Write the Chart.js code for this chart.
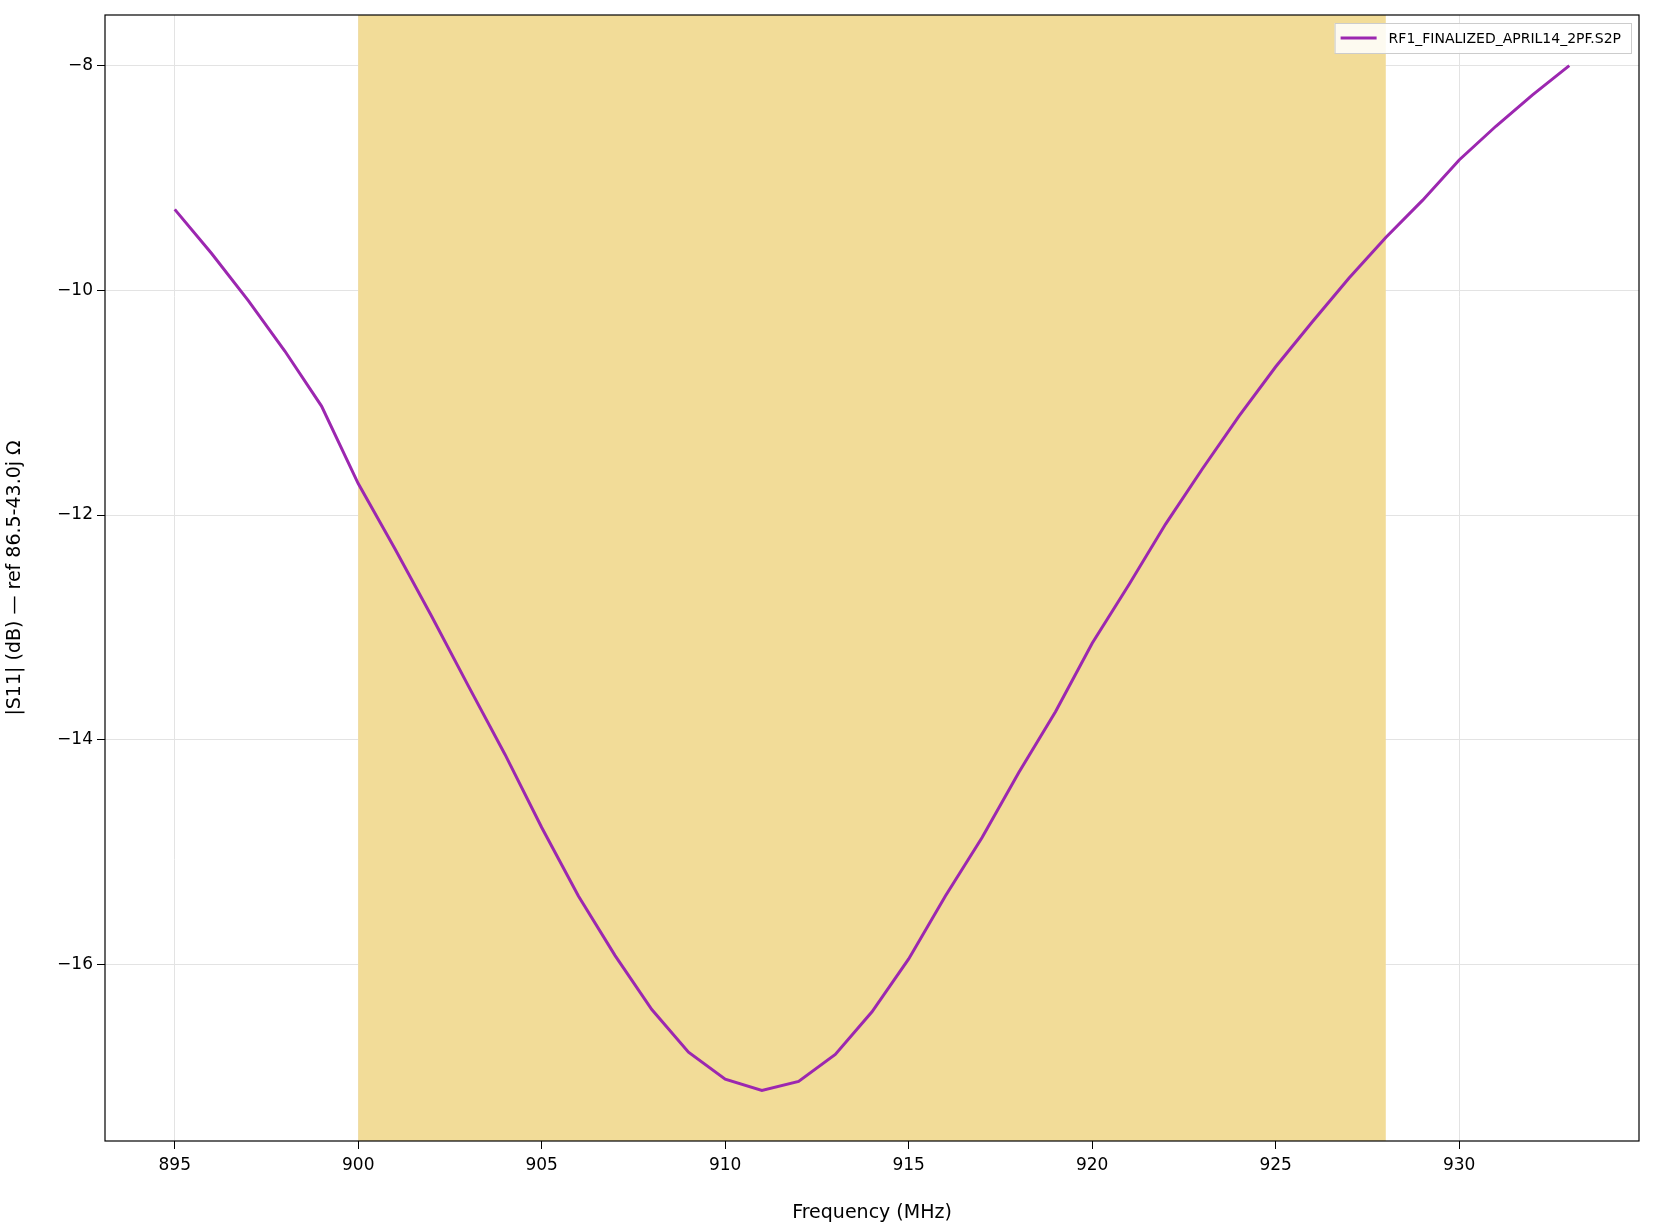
<!DOCTYPE html>
<html><head><meta charset="utf-8">
<script src="https://cdn.jsdelivr.net/npm/chart.js@4"></script>
<style>html,body{margin:0;background:#fff}#wrap{width:1654px;height:1224px}</style>
</head><body><div id="wrap"><canvas id="c"></canvas></div>
<script>
// S11 sweep, one point per MHz
const freqs = [895,896,897,898,899,900,901,902,903,904,905,906,907,908,909,910,911,912,913,914,
  915,916,917,918,919,920,921,922,923,924,925,926,927,928,929,930,931,932,933];
const s11 = [-9.28,-9.67,-10.09,-10.54,-11.03,-11.72,-12.30,-12.90,-13.52,-14.13,-14.78,-15.39,-15.92,-16.40,-16.78,-17.02,-17.12,-17.04,-16.80,-16.42,
  -15.95,-15.39,-14.87,-14.29,-13.75,-13.14,-12.62,-12.08,-11.59,-11.12,-10.68,-10.28,-9.89,-9.53,-9.20,-8.84,-8.54,-8.26,-8.00];
const band = [900, 928];
const xTicks = [895,900,905,910,915,920,925,930];
const yTicks = [-16,-14,-12,-10,-8];
const seriesName = 'RF1_FINALIZED_APRIL14_2PF.S2P';
const lineColor = '#9c27b0';

const bandPlugin = {
  id: 'band',
  beforeDatasetsDraw(chart) {
    const {ctx, chartArea: a, scales: {x}} = chart;
    ctx.save();
    ctx.fillStyle = '#f2dc98';
    const x0 = x.getPixelForValue(band[0]), x1 = x.getPixelForValue(band[1]);
    ctx.fillRect(x0, a.top, x1 - x0, a.bottom - a.top);
    ctx.restore();
  },
  afterDraw(chart) {
    const {ctx, chartArea: a} = chart;
    ctx.save();
    ctx.strokeStyle = '#000'; ctx.lineWidth = 1.2;
    ctx.strokeRect(a.left, a.top, a.right - a.left, a.bottom - a.top);
    // legend box, upper right inside the plot
    ctx.font = '14px "DejaVu Sans"';
    const tw = ctx.measureText(seriesName).width;
    const w = tw + 64, h = 30;
    const lx = a.right - 8 - w, ly = a.top + 8;
    ctx.fillStyle = 'rgba(255,255,255,0.85)';
    ctx.fillRect(lx, ly, w, h);
    ctx.strokeStyle = '#ccc'; ctx.lineWidth = 1;
    ctx.strokeRect(lx + 0.5, ly + 0.5, w, h);
    ctx.strokeStyle = lineColor; ctx.lineWidth = 3;
    ctx.beginPath(); ctx.moveTo(lx + 6, ly + h / 2); ctx.lineTo(lx + 42, ly + h / 2); ctx.stroke();
    ctx.fillStyle = '#000'; ctx.textBaseline = 'middle';
    ctx.fillText(seriesName, lx + 54, ly + h / 2 + 1);
    ctx.restore();
  }
};
const fmt = v => String(v).replace('-', '\u2212');

new Chart(document.getElementById('c'), {
  type: 'line',
  data: { datasets: [{
    label: seriesName,
    data: freqs.map((f, i) => ({x: f, y: s11[i]})),
    borderColor: lineColor, borderWidth: 3, pointRadius: 0, tension: 0
  }]},
  options: {
    responsive: true, maintainAspectRatio: false, animation: false,
    layout: { padding: { top: 15, right: 15, left: 0, bottom: 0 } },
    plugins: { legend: { display: false }, tooltip: { enabled: false } },
    scales: {
      x: {
        type: 'linear', min: 893.1, max: 934.9,
        afterBuildTicks: s => { s.ticks = xTicks.map(v => ({value: v})); },
        afterFit: s => { s.height = 83; },
        grid: { color: '#e3e3e3', tickLength: 8, tickColor: '#000' },
        border: { display: false },
        ticks: { color: '#000', font: { family: 'DejaVu Sans', size: 17 }, maxRotation: 0, padding: 6 },
        title: { display: true, text: 'Frequency (MHz)', color: '#000', font: { family: 'DejaVu Sans', size: 19 }, padding: { top: 4, bottom: 0 } }
      },
      y: {
        min: -17.57, max: -7.55,
        afterBuildTicks: s => { s.ticks = yTicks.map(v => ({value: v})); },
        afterFit: s => { s.width = 105; },
        grid: { color: '#e3e3e3', tickLength: 8, tickColor: '#000' },
        border: { display: false },
        ticks: { color: '#000', font: { family: 'DejaVu Sans', size: 17 }, callback: fmt, padding: 4 },
        title: { display: true, text: '|S11| (dB) \u2014 ref 86.5-43.0j \u03a9', color: '#000', font: { family: 'DejaVu Sans', size: 19 }, padding: { bottom: 4 } }
      }
    }
  },
  plugins: [bandPlugin]
});
</script></body></html>
